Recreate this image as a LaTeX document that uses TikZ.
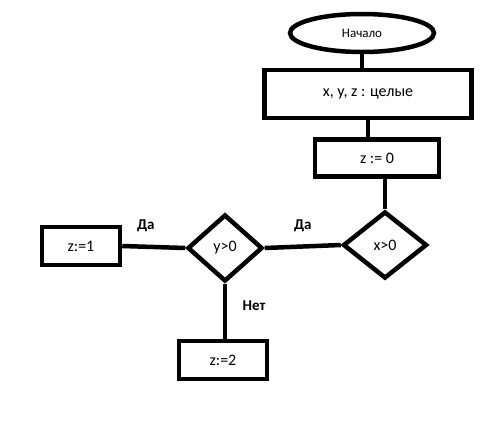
\documentclass[tikz,border=0pt]{standalone}
\usepackage{fontspec}
\setmainfont{Carlito}
\usetikzlibrary{shapes.geometric}
\usetikzlibrary{positioning}
\usetikzlibrary{calc}

\begin{document}
\begin{tikzpicture}[x=1pt,y=-1pt,line width=4.5pt,
        block/.style={draw, rectangle, inner sep=0pt, font=\fontsize{16}{19}\selectfont},
        cond/.style={draw, diamond, inner sep=0pt, font=\fontsize{16}{19}\selectfont},
        term/.style={draw, ellipse, inner sep=0pt, font=\fontsize{13}{15}\selectfont},
        lbl/.style={font=\bfseries\fontsize{15}{17}\selectfont}]
        \useasboundingbox (0,0) rectangle (500,434);
        \node[term, minimum width=144pt, minimum height=38pt] (start) at (362,33) {Начало};
        \node[block, minimum width=207pt, minimum height=48pt] (decl) at (368,94) {x, y, z : целые};
        \node[block, minimum width=124pt, minimum height=37pt] (init) at (377,158) {z := 0};
        \node[cond, minimum width=84pt, minimum height=67pt] (xpos) at (385,245) {x>0};
        \node[cond, minimum width=75pt, minimum height=67pt] (ypos) at (225,248) {y>0};
        \node[block, minimum width=78pt, minimum height=38pt] (zone) at (81,246) {z:=1};
        \node[block, minimum width=88pt, minimum height=38pt] (ztwo) at (223,360) {z:=2};

        \draw (start.south) -- (start.south |- decl.north);
        \draw (decl.south) -- (decl.south |- init.north);
        \draw (xpos.north) -- (xpos.north |- init.south);
        \draw (xpos.west) -- node[lbl, above=9pt] (yes1) {Да} (ypos.east);
        \draw (ypos.west) -- node[lbl, above=10pt, xshift=-8pt] (yes2) {Да} (zone.east);
        \draw (ypos.south) -- node[lbl, right=12pt, pos=0.4] (no2) {Нет} (ypos.south |- ztwo.north);
    \end{tikzpicture}
\end{document}
